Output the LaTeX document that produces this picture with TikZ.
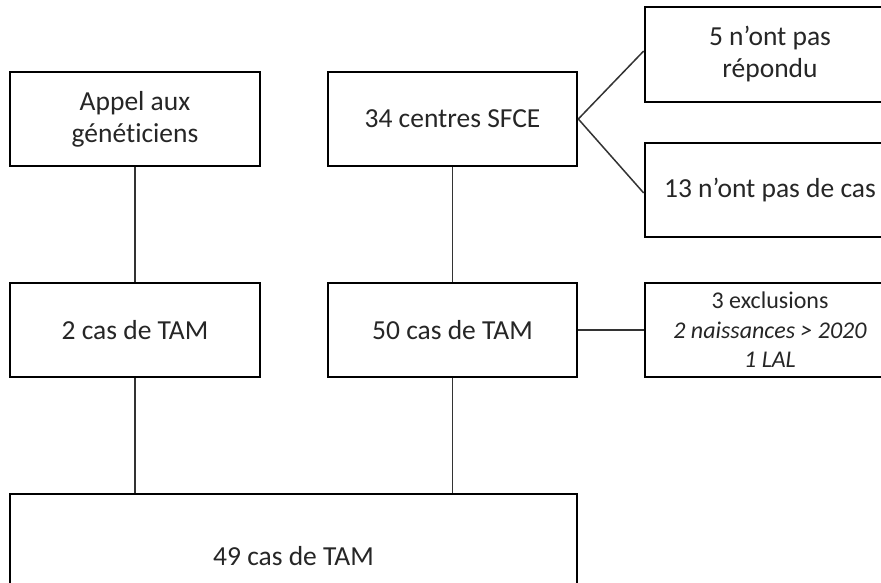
\documentclass[tikz,border=0pt]{standalone}
\usepackage{fontspec}
\setmainfont[Ligatures=NoCommon]{Carlito}
\begin{document}
\begin{tikzpicture}[x=1pt,y=-1pt,
  box/.style={draw=black,line width=2.6pt,fill=white,align=center,inner sep=2pt,
    text=black!85,font=\fontsize{27.5}{32}\selectfont},
  smallbox/.style={box,font=\fontsize{24}{29.5}\selectfont},
  link/.style={draw=black!80,line width=1.5pt}]
\useasboundingbox (0,0) rectangle (881,583);
\clip (0,0) rectangle (881,583);
\fill[white] (0,0) rectangle (881,583);
\node[box,minimum width=250pt,minimum height=94pt] (appel) at (135,119) {Appel aux\\généticiens};
\node[box,minimum width=249pt,minimum height=94pt] (centres) at (452.5,119) {34 centres SFCE};
\node[box,minimum width=250pt,minimum height=95pt] (rep) at (770,54.5) {5 n’ont pas\\répondu};
\node[box,minimum width=250pt,minimum height=94pt] (cas13) at (770,190) {13 n’ont pas de cas};
\node[box,minimum width=250pt,minimum height=94pt] (tam2) at (135,330) {2 cas de TAM};
\node[box,minimum width=249pt,minimum height=94pt] (tam50) at (452.5,330) {50 cas de TAM};
\node[smallbox,minimum width=250pt,minimum height=94pt] (excl) at (770,330) {3 exclusions\\\textit{2 naissances > 2020}\\\textit{1 LAL}};
\node[box,minimum width=567pt,minimum height=124pt] (tam49) at (293.5,556) {49 cas de TAM};
\draw[link] (appel.south) -- (tam2.north);
\draw[link] (centres.south) -- (tam50.north);
\draw[link] (tam2.south) -- (tam2.south |- tam49.north);
\draw[link] (tam50.south) -- (tam50.south |- tam49.north);
\draw[link] (tam50.east) -- (excl.west);
\draw[link] (centres.east) -- ([yshift=3.5pt]rep.west);
\draw[link] (centres.east) -- ([yshift=-3pt]cas13.west);
\end{tikzpicture}
\end{document}
